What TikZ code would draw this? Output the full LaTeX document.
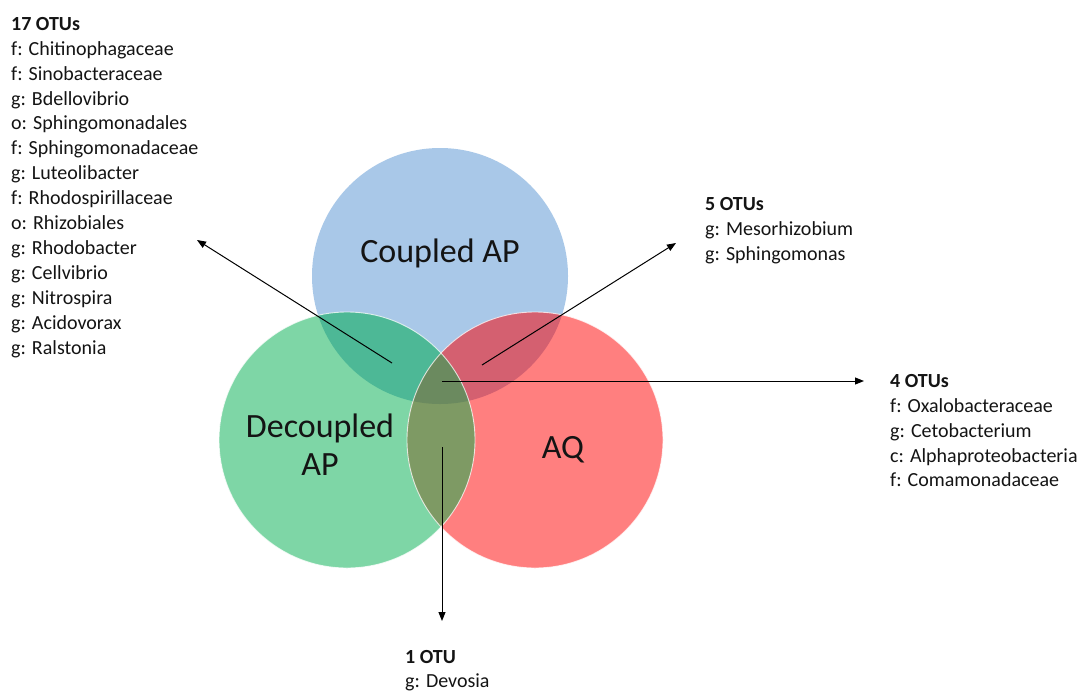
\documentclass[tikz,border=0pt]{standalone}
\usepackage{fontspec}
\setmainfont{Carlito}
\usetikzlibrary{arrows.meta}
\definecolor{cb}{HTML}{A9C8E8}
\definecolor{cg}{HTML}{7ED6A6}
\definecolor{cr}{HTML}{FF7F7F}
\definecolor{cbg}{HTML}{4DB896}
\definecolor{cbr}{HTML}{D46070}
\definecolor{cgr}{HTML}{7E9A64}
\definecolor{cbgr}{HTML}{6B8A5F}
\definecolor{ink}{HTML}{141414}
\begin{document}
\begin{tikzpicture}[x=1pt,y=-1pt,
  otulist/.style={anchor=north west,inner sep=0pt,align=left,text=ink,font=\fontsize{20}{24.9}\selectfont},
  setlabel/.style={inner sep=0pt,text=ink,font=\fontsize{34}{38}\selectfont},
  pointer/.style={draw=black,line width=1pt,-{Triangle[length=9pt,width=7pt]}},
  rim/.style={draw=white,line width=0.9pt,opacity=0.75}]
\useasboundingbox[fill=white] (0,0) rectangle (1084,694);
\def\R{128pt}
\coordinate (cB) at (440,276);
\coordinate (cG) at (347,440);
\coordinate (cR) at (535,440);
% circles
\fill[cb] (cB) circle[radius=\R];
\fill[cg] (cG) circle[radius=\R];
\fill[cr] (cR) circle[radius=\R];
\begin{scope}
  \clip (cB) circle[radius=\R];
  \fill[cbg] (cG) circle[radius=\R];
  \fill[cbr] (cR) circle[radius=\R];
\end{scope}
\begin{scope}
  \clip (cG) circle[radius=\R];
  \fill[cgr] (cR) circle[radius=\R];
\end{scope}
\begin{scope}
  \clip (cB) circle[radius=\R];
  \clip (cG) circle[radius=\R];
  \fill[cbgr] (cR) circle[radius=\R];
\end{scope}
\draw[rim] (cG) circle[radius=\R];
\draw[rim] (cR) circle[radius=\R];
% set labels
\node[setlabel,anchor=base] (lB) at (440,262) {Coupled AP};
\node[setlabel,anchor=south,align=center] (lG) at (320,476) {Decoupled\\AP};
\node[setlabel,anchor=base] (lR) at (563,458) {AQ};
% lists
\node[otulist] (t17) at (11,17) {\textbf{17 OTUs}\\f: Chitinophagaceae\\f: Sinobacteraceae\\g: Bdellovibrio\\o: Sphingomonadales\\f: Sphingomonadaceae\\g: Luteolibacter\\f: Rhodospirillaceae\\o: Rhizobiales\\g: Rhodobacter\\g: Cellvibrio\\g: Nitrospira\\g: Acidovorax\\g: Ralstonia};
\node[otulist] (t5) at (705,197) {\textbf{5 OTUs}\\g: Mesorhizobium\\g: Sphingomonas};
\node[otulist] (t4) at (890,374) {\textbf{4 OTUs}\\f: Oxalobacteraceae\\g: Cetobacterium\\c: Alphaproteobacteria\\f: Comamonadaceae};
\node[otulist,font=\fontsize{20}{24}\selectfont] (t1) at (405,650) {\textbf{1 OTU}\\g: Devosia};
% connectors
\coordinate (sBG) at (392,363);
\coordinate (eBG) at (197,240);
\coordinate (sBR) at (482,365);
\coordinate (eBR) at (676,243);
\coordinate (sBGR) at (442,381);
\coordinate (eBGR) at (864,381);
\coordinate (sGR) at (442,447);
\coordinate (eGR) at (442,621);
\draw[pointer] (sBG) -- (eBG);
\draw[pointer] (sBR) -- (eBR);
\draw[pointer] (sBGR) -- (eBGR);
\draw[pointer] (sGR) -- (eGR);
\end{tikzpicture}
\end{document}
